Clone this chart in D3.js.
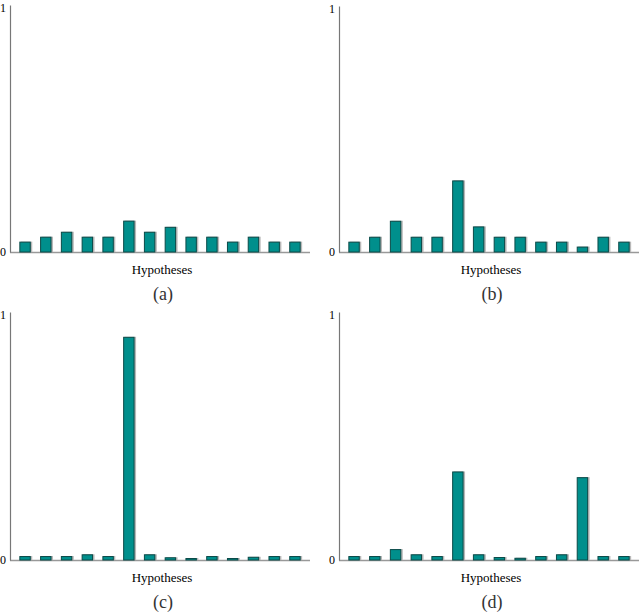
<!DOCTYPE html>
<html>
<head>
<meta charset="utf-8">
<script src="https://cdn.jsdelivr.net/npm/d3@7"></script>
<style>
  body { margin: 0; background: #fff; }
  svg { display: block; }
  svg text { font-family: "Liberation Serif", "DejaVu Serif", serif; }
</style>
</head>
<body>
<svg id="chart" width="640" height="612"></svg>
<script>
const hypotheses = d3.range(1, 15).map(String);
const valuesA = [0.042, 0.062, 0.082, 0.062, 0.062, 0.127, 0.082, 0.102, 0.062, 0.062, 0.042, 0.062, 0.042, 0.042];
const valuesB = [0.042, 0.062, 0.127, 0.062, 0.062, 0.291, 0.104, 0.062, 0.062, 0.042, 0.042, 0.022, 0.062, 0.042];
const valuesC = [0.016, 0.016, 0.016, 0.023, 0.016, 0.900, 0.023, 0.011, 0.008, 0.016, 0.008, 0.013, 0.016, 0.016];
const valuesD = [0.016, 0.016, 0.044, 0.023, 0.016, 0.357, 0.023, 0.012, 0.009, 0.016, 0.023, 0.334, 0.016, 0.016];
const panelLabels = ["(a)", "(b)", "(c)", "(d)"];
const yTicks = [0, 1];
const xTitle = "Hypotheses";

const panels = [
  { values: valuesA, x0: 10, x1: 310, yTop: 5, yBase: 252, label: panelLabels[0] },
  { values: valuesB, x0: 339, x1: 639, yTop: 6, yBase: 252, label: panelLabels[1] },
  { values: valuesC, x0: 10, x1: 310, yTop: 312, yBase: 560, label: panelLabels[2] },
  { values: valuesD, x0: 339, x1: 639, yTop: 312, yBase: 560, label: panelLabels[3] }
];

const svg = d3.select("#chart");
const serif = "Liberation Serif, DejaVu Serif, serif";

panels.forEach(p => {
  const g = svg.append("g");
  const x = d3.scaleBand().domain(hypotheses).range([p.x0, p.x1]).paddingInner(0.45).paddingOuter(0.45);
  const y = d3.scaleLinear().domain([0, 1]).range([p.yBase, p.yTop]);

  // x axis line
  g.append("line")
    .attr("x1", p.x0).attr("x2", p.x1)
    .attr("y1", p.yBase + 0.5).attr("y2", p.yBase + 0.5)
    .attr("stroke", "#999").attr("stroke-width", 1.5);

  // shadows
  g.selectAll("rect.shadow").data(p.values).join("rect")
    .attr("class", "shadow")
    .attr("x", (d, i) => x(hypotheses[i]) + 1.5)
    .attr("y", d => y(d))
    .attr("width", x.bandwidth())
    .attr("height", d => p.yBase - y(d))
    .attr("fill", "#b8b8b8");

  // bars
  g.selectAll("rect.bar").data(p.values).join("rect")
    .attr("class", "bar")
    .attr("x", (d, i) => x(hypotheses[i]) + 0.5)
    .attr("y", d => y(d) + 0.5)
    .attr("width", x.bandwidth() - 1)
    .attr("height", d => Math.max(0, p.yBase - y(d) - 0.5))
    .attr("fill", "#008f8c")
    .attr("stroke", "#0b4a48")
    .attr("stroke-width", 1);

  // y axis
  const yAxis = d3.axisLeft(y).tickValues(yTicks).tickSize(0).tickPadding(4).tickFormat(d3.format("d"));
  const ya = g.append("g").attr("transform", `translate(${p.x0},0)`).call(yAxis);
  ya.attr("font-family", null);
  ya.select(".domain").attr("stroke", "#777").attr("stroke-width", 1.2);
  ya.selectAll("text")
    .style("font-family", serif).attr("font-size", 12).attr("fill", "#000")
    .attr("dy", d => d === 1 ? "0.55em" : "0.32em");

  // x title
  g.append("text")
    .attr("x", (p.x0 + p.x1) / 2 + 2)
    .attr("y", p.yBase + 22)
    .attr("text-anchor", "middle")
    .style("font-family", serif)
    .attr("font-size", 13)
    .text(xTitle);

  // panel label
  g.append("text")
    .attr("x", (p.x0 + p.x1) / 2 + 3)
    .attr("y", p.yBase + 48)
    .attr("text-anchor", "middle")
    .style("font-family", serif)
    .attr("font-size", 18)
    .attr("fill", "#333")
    .text(p.label);
});
</script>
</body>
</html>
